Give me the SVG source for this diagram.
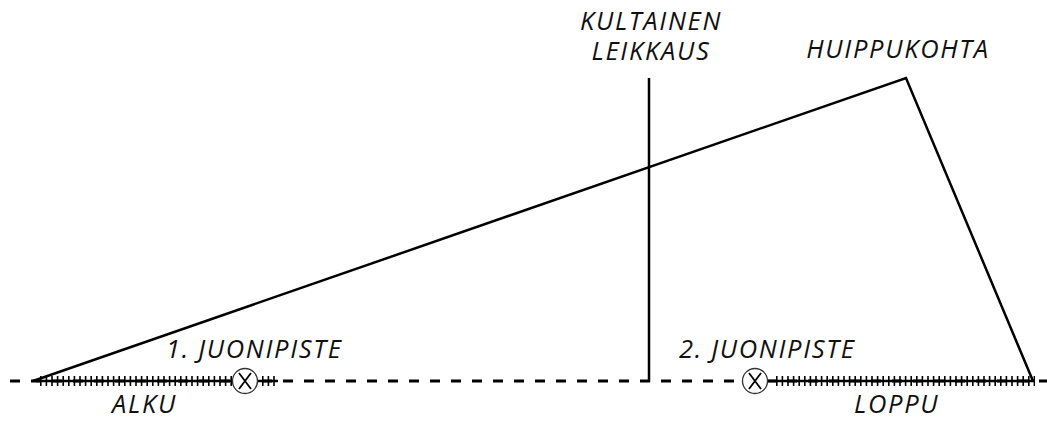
<svg xmlns="http://www.w3.org/2000/svg" width="1047" height="424" viewBox="0 0 1047 424">
<style>
.t{font-family:"Open Sans","Noto Sans",sans-serif;font-style:italic;font-size:25.5px;fill:#111;letter-spacing:1.7px}
.ln{stroke:#000;stroke-width:2.5;fill:none}
.dash{stroke:#000;stroke-width:3;stroke-dasharray:10 11;fill:none}
.hatch{stroke:#000;stroke-width:10;stroke-dasharray:1.6 4;fill:none}
.hl{stroke:#000;stroke-width:2.5;fill:none}
.pt{fill:#fff;stroke:#333;stroke-width:1.3}
.x{stroke:#000;stroke-width:1.8;fill:none}
</style>
<rect width="1047" height="424" fill="#fff"/>
<g id="connectors">
<line class="dash" x1="10" y1="381" x2="1047" y2="381"/>
<line class="hl" x1="36" y1="381" x2="232" y2="381"/>
<line class="hl" x1="258" y1="381" x2="278" y2="381"/>
<line class="hl" x1="768" y1="381" x2="1035" y2="381"/>
<line class="hatch" x1="40" y1="381" x2="232" y2="381"/>
<line class="hatch" x1="262" y1="381" x2="278" y2="381"/>
<line class="hatch" x1="776" y1="381" x2="1035" y2="381"/>
<polyline class="ln" points="33,381 906,78 1033,381"/>
<line class="ln" x1="649" y1="78" x2="649" y2="382"/>
</g>
<g id="point1">
<circle class="pt" cx="245" cy="381" r="12.5"/>
<path class="x" d="M239,373 L251,389 M251,373 L239,389"/>
<text class="t" x="166" y="358">1. JUONIPISTE</text>
</g>
<g id="point2">
<circle class="pt" cx="755" cy="381" r="12.5"/>
<path class="x" d="M749,373 L761,389 M761,373 L749,389"/>
<text class="t" x="679" y="358">2. JUONIPISTE</text>
</g>
<g id="golden">
<text class="t" x="651" y="30" text-anchor="middle">KULTAINEN</text>
<text class="t" x="651" y="60" text-anchor="middle">LEIKKAUS</text>
</g>
<g id="peak">
<text class="t" x="898" y="58" text-anchor="middle">HUIPPUKOHTA</text>
</g>
<g id="start">
<text class="t" x="112" y="413">ALKU</text>
</g>
<g id="end">
<text class="t" x="854" y="413">LOPPU</text>
</g>
</svg>
